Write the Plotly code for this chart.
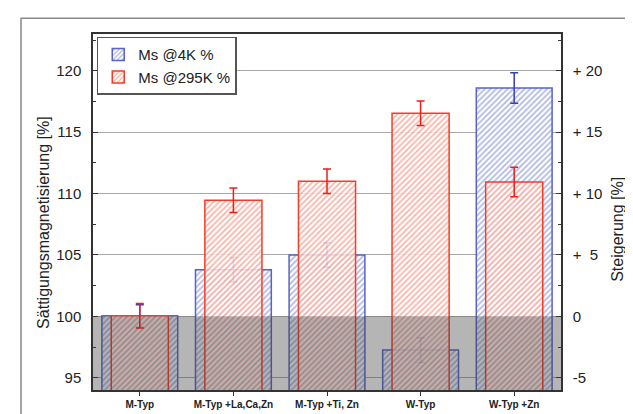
import plotly.graph_objects as go

categories = ["M-Typ", "M-Typ +La,Ca,Zn", "M-Typ +Ti, Zn", "W-Typ", "W-Typ +Zn"]
ms_4k = [100.05, 103.8, 105.0, 97.25, 118.6]
ms_4k_err = [0.9, 1.0, 1.0, 1.0, 1.25]
ms_295k = [100.05, 109.45, 111.0, 116.55, 110.95]
ms_295k_err = [1.0, 1.0, 1.0, 1.0, 1.2]

left_ticks = [95, 100, 105, 110, 115, 120]
right_ticks = [-5, 0, 5, 10, 15, 20]
right_ticktext = ["-5", "0", "+\u00a0\u00a05", "+\u00a010", "+\u00a015", "+\u00a020"]

BLUE_EDGE = "rgb(88,100,196)"
BLUE_HATCH = "rgb(95,108,200)"
RED_EDGE = "rgb(245,60,40)"
RED_HATCH = "rgb(245,100,75)"

fig = go.Figure()
fig.add_trace(go.Bar(
    x=categories, y=ms_4k, name="Ms @4K %", width=0.81,
    marker=dict(color="white", line=dict(color=BLUE_EDGE, width=1.5),
                pattern=dict(shape="/", fgcolor=BLUE_HATCH, bgcolor="white", size=4, solidity=0.42)),
    error_y=dict(type="data", array=ms_4k_err, color="rgb(55,65,175)", thickness=1.5, width=4),
))
fig.add_trace(go.Bar(
    x=categories, y=ms_295k, name="Ms @295K %", width=0.61,
    marker=dict(color="rgba(255,255,255,0.8)", line=dict(color=RED_EDGE, width=1.5),
                pattern=dict(shape="/", fgcolor=RED_HATCH, bgcolor="rgba(255,255,255,0.82)", size=4, solidity=0.42)),
    error_y=dict(type="data", array=ms_295k_err, color="rgb(240,30,20)", thickness=1.5, width=4),
))
# invisible trace to activate secondary axis
fig.add_trace(go.Scatter(x=[categories[0]], y=[0], yaxis="y2", mode="markers",
                         marker=dict(opacity=0), showlegend=False, hoverinfo="skip"))

fig.update_layout(
    width=633, height=414,
    margin=dict(l=85, r=80, t=26, b=28),
    paper_bgcolor="white", plot_bgcolor="white",
    barmode="overlay",
    font=dict(family="Liberation Sans, Arial, sans-serif", color="#222"),
    showlegend=True,
    legend=dict(x=0.008, y=0.992, xanchor="left", yanchor="top",
                bgcolor="white", bordercolor="#555", borderwidth=1.5,
                font=dict(size=15, color="#222"), tracegroupgap=0, itemwidth=30),
    xaxis=dict(range=[-0.5, 4.5], showline=True, linecolor="#333", linewidth=1.5, mirror=True,
               ticks="outside", ticklen=4, tickcolor="#333",
               tickfont=dict(size=10, family="Liberation Sans, Arial", weight="bold", color="#222"),
               showgrid=False),
    yaxis=dict(range=[94, 123], tickvals=left_ticks, showline=True, linecolor="#333", linewidth=1.5,
               ticks="inside", ticklen=5, tickcolor="#333", tickwidth=1.2,
               minor=dict(ticks="inside", ticklen=3, dtick=2.5, tick0=0, tickcolor="#333", showgrid=False),
               tickfont=dict(size=15), showgrid=True, gridcolor="#a8a8a8", gridwidth=1,
               layer="above traces", ticklabelstandoff=7, zeroline=False),
    yaxis2=dict(range=[-6, 23], overlaying="y", side="right", tickvals=right_ticks, ticktext=right_ticktext,
                showline=True, linecolor="#333", linewidth=1.5, ticks="inside", ticklen=5, tickcolor="#333",
                tickwidth=1.2, minor=dict(ticks="inside", ticklen=3, dtick=2.5, tick0=0, tickcolor="#333"),
                tickfont=dict(size=15), showgrid=False, zeroline=False, layer="above traces",
                ticklabelstandoff=7),
)

# gray shaded region below 100 %
fig.add_shape(type="rect", xref="paper", yref="y", x0=0, x1=1, y0=94, y1=100,
              fillcolor="rgba(60,60,60,0.38)", line=dict(width=0), layer="above")

# outer frame
fig.add_shape(type="rect", xref="paper", yref="paper", x0=-0.1538, x1=1.1688, y0=-0.3, y1=1.0444,
              line=dict(color="#888", width=1.5), fillcolor="rgba(0,0,0,0)", layer="below")

fig.add_annotation(text="Sättigungsmagnetisierung [%]", xref="paper", yref="paper",
                   x=(36 - 85) / 468, y=(386 - 217) / 360, textangle=-90, showarrow=False,
                   font=dict(size=16, color="#222"), xanchor="center", yanchor="middle")
fig.add_annotation(text="Steigerung [%]", xref="paper", yref="paper",
                   x=(610 - 85) / 468, y=(386 - 224) / 360, textangle=-90, showarrow=False,
                   font=dict(size=16, color="#222"), xanchor="center", yanchor="middle")

fig.write_html("out.html")
